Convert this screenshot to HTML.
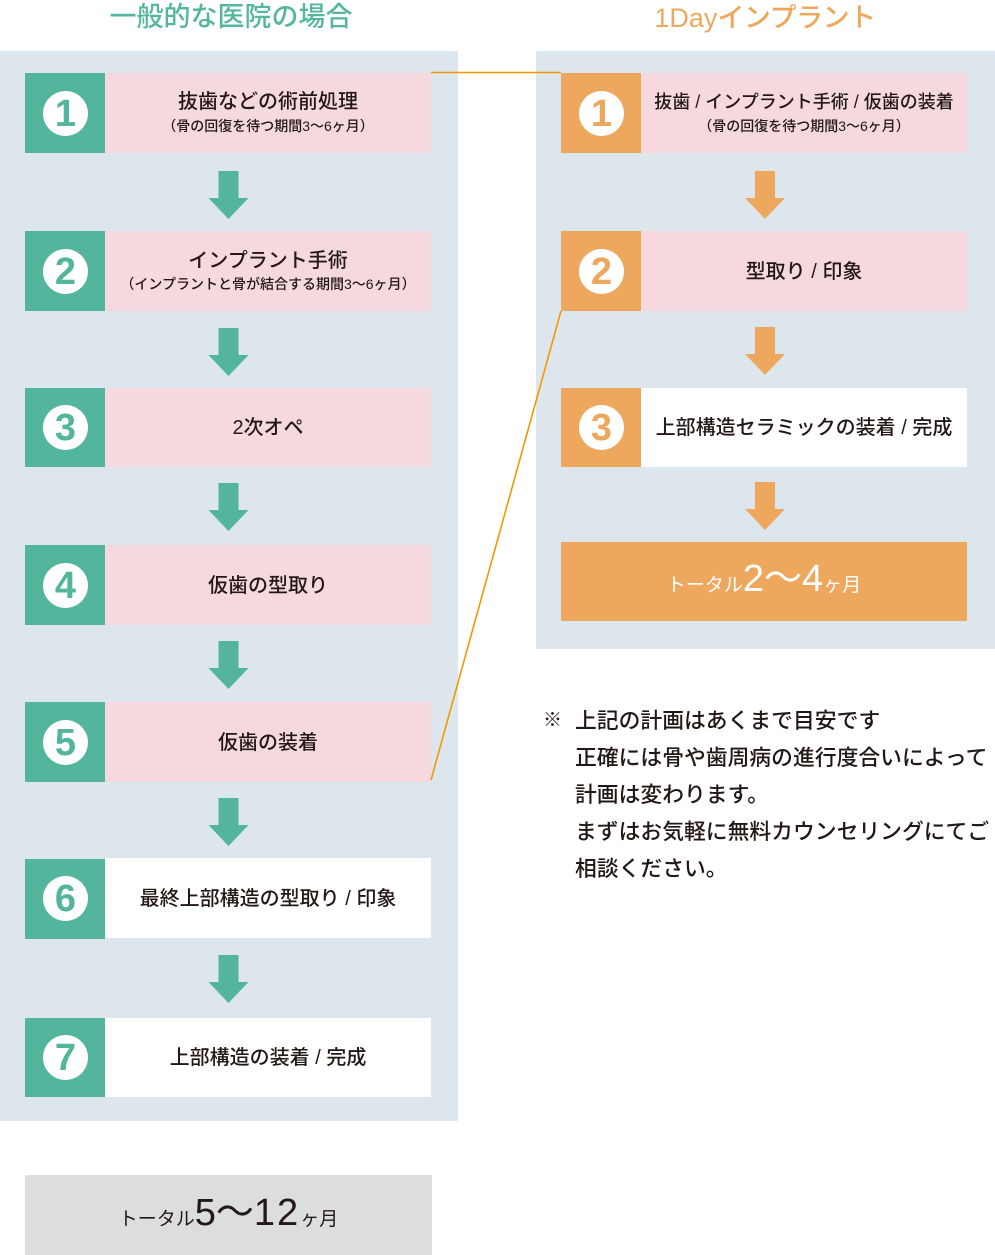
<!DOCTYPE html>
<html><head><meta charset="utf-8">
<style>
*{margin:0;padding:0;box-sizing:border-box}
body{width:995px;height:1255px;background:#fff;position:relative;overflow:hidden;font-family:"Liberation Sans","Noto Sans CJK JP",sans-serif;color:#231815}
.a{position:absolute}
.panel{background:#dce6ec}
.pink{background:#f5d9de}
.white{background:#fff}
.gsq{background:#52b59c}
.osq{background:#eda85e}
.circ{position:absolute;width:45px;height:45px;border-radius:50%;background:#fff;display:flex;align-items:center;justify-content:center;font-family:"Liberation Sans",sans-serif;font-weight:bold;font-size:38px;line-height:1}
.g{color:#52b59c}.o{color:#eda85e}
.t{position:absolute;text-align:center;white-space:nowrap;font-weight:500}
.m{font-size:20px;line-height:24px}
.s{font-size:14px;line-height:20px}
</style></head><body>

<!-- titles -->
<div class="t" style="left:60px;top:3px;width:342px;font-size:27px;line-height:29px;color:#54b69e;">一般的な医院の場合</div>
<div class="t" style="left:600px;top:3px;width:330px;font-size:27px;line-height:30px;color:#eea85e;">1Day<span style="letter-spacing:-0.5px">インプラント</span></div>

<!-- panels -->
<div class="a panel" style="left:0;top:51px;width:458px;height:1070px"></div>
<div class="a panel" style="left:536px;top:51px;width:459px;height:598px"></div>

<!-- left boxes -->
<div class="a gsq" style="left:25px;top:73px;width:80px;height:80px"></div>
<div class="a pink" style="left:105px;top:73px;width:326px;height:80px"></div>
<div class="a gsq" style="left:25px;top:231px;width:80px;height:80px"></div>
<div class="a pink" style="left:105px;top:231px;width:326px;height:80px"></div>
<div class="a gsq" style="left:25px;top:388px;width:80px;height:79px"></div>
<div class="a pink" style="left:105px;top:388px;width:326px;height:79px"></div>
<div class="a gsq" style="left:25px;top:545px;width:80px;height:80px"></div>
<div class="a pink" style="left:105px;top:545px;width:326px;height:80px"></div>
<div class="a gsq" style="left:25px;top:702px;width:80px;height:80px"></div>
<div class="a pink" style="left:105px;top:702px;width:326px;height:80px"></div>
<div class="a gsq" style="left:25px;top:859px;width:80px;height:80px"></div>
<div class="a white" style="left:105px;top:858px;width:326px;height:80px"></div>
<div class="a gsq" style="left:25px;top:1018px;width:80px;height:79px"></div>
<div class="a white" style="left:105px;top:1018px;width:326px;height:79px"></div>

<!-- left circles -->
<div class="circ g" style="left:43px;top:91px">1</div>
<div class="circ g" style="left:43px;top:249px">2</div>
<div class="circ g" style="left:43px;top:405px">3</div>
<div class="circ g" style="left:43px;top:563px">4</div>
<div class="circ g" style="left:43px;top:720px">5</div>
<div class="circ g" style="left:43px;top:876px">6</div>
<div class="circ g" style="left:43px;top:1035px">7</div>

<!-- left texts -->
<div class="t m" style="left:105px;width:326px;top:90px">抜歯などの術前処理</div>
<div class="t s" style="left:105px;width:326px;top:116px">（骨の回復を待つ期間3〜6ヶ月）</div>
<div class="t m" style="left:105px;width:326px;top:249px">インプラント手術</div>
<div class="t s" style="left:105px;width:326px;top:274px">（インプラントと骨が結合する期間3〜6ヶ月）</div>
<div class="t m" style="left:105px;width:326px;top:416px">2次オペ</div>
<div class="t m" style="left:105px;width:326px;top:574px">仮歯の型取り</div>
<div class="t m" style="left:105px;width:326px;top:731px">仮歯の装着</div>
<div class="t m" style="left:105px;width:326px;top:887px">最終上部構造の型取り / 印象</div>
<div class="t m" style="left:105px;width:326px;top:1046px">上部構造の装着 / 完成</div>

<!-- right boxes -->
<div class="a osq" style="left:561px;top:73px;width:80px;height:80px"></div>
<div class="a pink" style="left:641px;top:73px;width:326px;height:80px"></div>
<div class="a osq" style="left:561px;top:231px;width:80px;height:80px"></div>
<div class="a pink" style="left:641px;top:231px;width:326px;height:80px"></div>
<div class="a osq" style="left:561px;top:388px;width:80px;height:79px"></div>
<div class="a white" style="left:641px;top:388px;width:326px;height:79px"></div>
<div class="a osq" style="left:561px;top:542px;width:406px;height:79px"></div>

<div class="circ o" style="left:579px;top:91px">1</div>
<div class="circ o" style="left:579px;top:249px">2</div>
<div class="circ o" style="left:579px;top:405px">3</div>

<div class="t" style="left:641px;width:326px;top:90px;font-size:18px;line-height:24px">抜歯 / インプラント手術 / 仮歯の装着</div>
<div class="t s" style="left:641px;width:326px;top:116px">（骨の回復を待つ期間3〜6ヶ月）</div>
<div class="t m" style="left:641px;width:326px;top:260px">型取り / 印象</div>
<div class="t m" style="left:641px;width:326px;top:416px">上部構造セラミックの装着 / 完成</div>

<div class="t" style="left:561px;width:406px;top:560px;font-size:38px;line-height:38px;color:#fff;font-weight:normal"><span style="font-size:19px">トータル</span>2〜4<span style="font-size:19px">ヶ月</span></div>

<!-- left total -->
<div class="a" style="left:25px;top:1175px;width:407px;height:80px;background:#dcdddd"></div>
<div class="t" style="left:25px;width:407px;top:1194px;font-size:38px;line-height:38px;font-weight:normal"><span style="font-size:19px">トータル</span>5〜<span style="letter-spacing:2px">12</span><span style="font-size:19px">ヶ月</span></div>

<!-- note -->
<div class="a" style="left:543px;top:702px;font-size:19px;line-height:37px">※</div>
<div class="a" style="left:575px;top:702px;font-size:21.8px;line-height:37px;white-space:nowrap;font-weight:500">上記の計画はあくまで目安です<br>正確には骨や歯周病の進行度合いによって<br>計画は変わります。<br>まずはお気軽に無料カウンセリングにてご<br>相談ください。</div>

<!-- arrows & connector -->
<svg class="a" style="left:0;top:0" width="995" height="1255" viewBox="0 0 995 1255">
<g fill="#52b59c">
<path d="M218.5 171h20v27h10l-20 21-20-21h10z"/>
<path d="M218.5 328h20v27h10l-20 21-20-21h10z"/>
<path d="M218.5 483h20v27h10l-20 21-20-21h10z"/>
<path d="M218.5 641h20v27h10l-20 21-20-21h10z"/>
<path d="M218.5 798h20v27h10l-20 21-20-21h10z"/>
<path d="M218.5 955h20v27h10l-20 21-20-21h10z"/>
</g>
<g fill="#eda85e">
<path d="M755 171h20v27h10l-20 21-20-21h10z"/>
<path d="M755 327h20v27h10l-20 21-20-21h10z"/>
<path d="M755 482h20v27h10l-20 21-20-21h10z"/>
</g>
<polyline points="431,72.5 561,72.5" fill="none" stroke="#f39800" stroke-width="1.6"/>
<line x1="561" y1="311" x2="431" y2="780" stroke="#f39800" stroke-width="1.6"/>
</svg>

</body></html>
